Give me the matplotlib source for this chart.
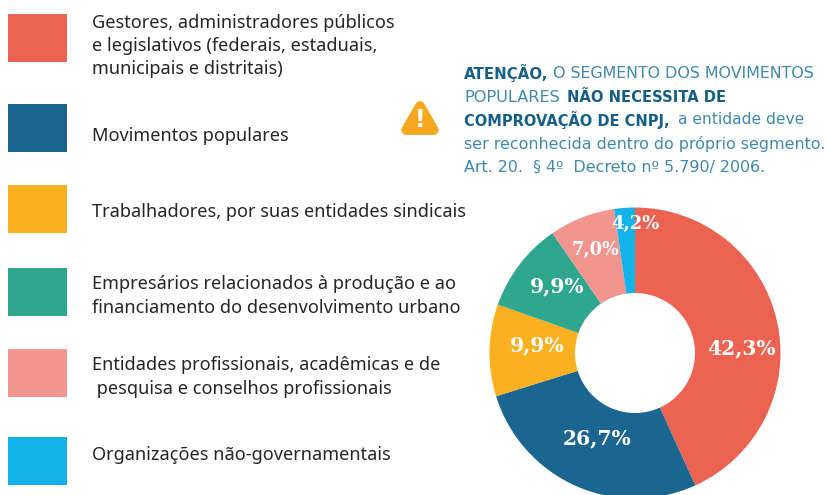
import matplotlib
matplotlib.use("Agg")
import matplotlib.pyplot as plt
from matplotlib.patches import Rectangle, RegularPolygon
import math

labels = ["Gestores, administradores públicos\ne legislativos (federais, estaduais,\nmunicipais e distritais)",
          "Movimentos populares",
          "Trabalhadores, por suas entidades sindicais",
          "Empresários relacionados à produção e ao\nfinanciamento do desenvolvimento urbano",
          "Entidades profissionais, acadêmicas e de\n pesquisa e conselhos profissionais",
          "Organizações não-governamentais"]
# Arc shares as drawn in the picture (they differ slightly from the printed labels)
arc_shares = [43.2, 27.0, 10.2, 10.0, 7.3, 2.3]
pct_labels = ["42,3%", "26,7%", "9,9%", "9,9%", "7,0%", "4,2%"]
colors = ["#EC6351", "#1B6690", "#FBB01F", "#2FA68E", "#F3958F", "#12B2EA"]
legend_y = [38, 128, 209, 292, 373, 461]
label_y = [46, 136, 212, 296, 377, 455]
pct_pos = [(741, 348), (597, 438), (537, 345), (557, 286), (596, 250), (635, 224)]
pct_size = [14.6, 14.6, 14.6, 14.6, 12.8, 13]

fig = plt.figure(figsize=(8.28, 4.95), dpi=100)
bg = fig.add_axes([0, 0, 1, 1])
bg.set_xlim(0, 828); bg.set_ylim(495, 0); bg.axis("off")

for y, c, t, ty in zip(legend_y, colors, labels, label_y):
    bg.add_patch(Rectangle((8, y - 24), 59, 48, color=c, lw=0))
    bg.text(92, ty, t, va="center", ha="left", fontsize=13.1, color="#262626",
            family="Noto Sans", linespacing=1.37)

reg = "#3F88AE"
dark = "#145F88"
kw = dict(family="DejaVu Sans", va="center", ha="left")
bold = dict(family="DejaVu Sans", va="center", ha="left", fontweight="bold", color=dark)
bg.text(464, 73, "ATENÇÃO,", fontsize=10.8, **bold)
bg.text(553, 73, "O SEGMENTO DOS MOVIMENTOS", color=reg, fontsize=11.4, **kw)
bg.text(464, 98, "POPULARES", color=reg, fontsize=11.6, **kw)
bg.text(567, 98, "NÃO NECESSITA DE", fontsize=10.6, **bold)
bg.text(464, 120, "COMPROVAÇÃO DE CNPJ,", fontsize=10.5, **bold)
bg.text(678, 120, "a entidade deve", color=reg, fontsize=11.2, **kw)
bg.text(464, 144, "ser reconhecida dentro do próprio segmento.", color=reg, fontsize=11.4, **kw)
bg.text(464, 167, "Art. 20.  § 4º  Decreto nº 5.790/ 2006.", color=reg, fontsize=11.4, **kw)

bg.add_patch(RegularPolygon((420, 122), 3, radius=16, orientation=math.pi,
                            facecolor="#F6A81C", edgecolor="#F6A81C", lw=7, joinstyle="round"))
bg.text(420, 120, "!", color="white", fontsize=17, fontweight="bold", ha="center", va="center")

cx, cy, r = 635, 353, 145.5
ax = fig.add_axes([(cx - r) / 828, 1 - (cy + r) / 495, 2 * r / 828, 2 * r / 495])
ax.pie(arc_shares, colors=colors, startangle=90, counterclock=False, radius=1,
       wedgeprops=dict(width=1 - 60 / 145.5, linewidth=0))
ax.set_xlim(-1, 1); ax.set_ylim(-1, 1)

for (x, y), t, s in zip(pct_pos, pct_labels, pct_size):
    bg.text(x, y, t, color="white", fontsize=s, fontweight="bold", ha="center", va="center",
            family="DejaVu Serif", zorder=10)
bg.set_zorder(5)
bg.patch.set_alpha(0)
fig.savefig("out.png", dpi=100)
